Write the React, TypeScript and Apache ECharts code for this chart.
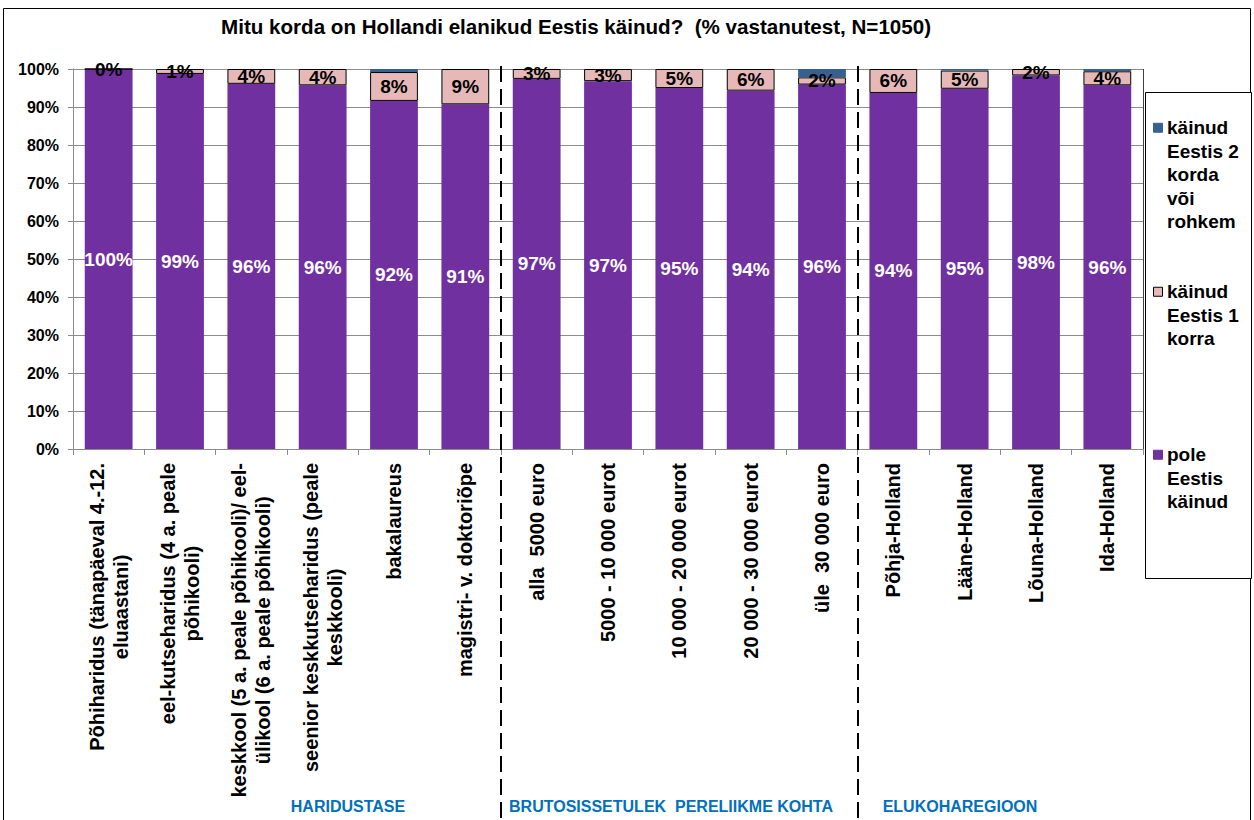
import React, { useEffect, useRef } from "react";
import * as echarts from "echarts";

const categories = [
  "Põhiharidus (tänapäeval 4.-12.\neluaastani)",
  "eel-kutseharidus (4 a. peale\npõhikooli)",
  "keskkool (5 a. peale põhikooli)/ eel-\nülikool (6 a. peale põhikooli)",
  "seenior keskkutseharidus (peale\nkeskkooli)",
  "bakalaureus",
  "magistri- v. doktoriõpe",
  "alla  5000 euro",
  "5000 - 10 000 eurot",
  "10 000 - 20 000 eurot",
  "20 000 - 30 000 eurot",
  "üle  30 000 euro",
  "Põhja-Holland",
  "Lääne-Holland",
  "Lõuna-Holland",
  "Ida-Holland",
];

const seriesNames = [
  "pole Eestis käinud",
  "käinud Eestis 1 korra",
  "käinud Eestis 2 korda või rohkem",
];

const poleKainud = [100, 98.7, 96.1, 95.7, 91.6, 90.7, 97.4, 96.8, 95.0, 94.3, 95.9, 93.7, 94.8, 98.3, 95.7];
const uksKord = [0, 1.3, 3.9, 4.3, 7.6, 9.3, 2.6, 3.2, 5.0, 5.7, 1.9, 6.3, 4.8, 1.7, 3.7];
const kaksVoiRohkem = [0, 0, 0, 0, 0.8, 0, 0, 0, 0, 0, 2.2, 0, 0.4, 0, 0.6];

const yTicks = [0, 10, 20, 30, 40, 50, 60, 70, 80, 90, 100];

const groupLabels = ["HARIDUSTASE", "BRUTOSISSETULEK  PERELIIKME KOHTA", "ELUKOHAREGIOON"];
const groupBreaks = [6, 11];

const legendLabels = ["käinud\nEestis 2\nkorda\nvõi\nrohkem", "käinud\nEestis 1\nkorra", "pole\nEestis\nkäinud"];

const TITLE = "Mitu korda on Hollandi elanikud Eestis käinud?  (% vastanutest, N=1050)";

const FONT = "'Liberation Sans', Arial, Helvetica, sans-serif";
const PURPLE = "#7030A0";
const PINK = "#E6B9B8";
const BLUE = "#376092";
const GRID_GRAY = "#8C8C8C";

export default function App() {
  const ref = useRef<HTMLDivElement>(null);

  useEffect(() => {
    if (!ref.current) return;
    const chart = echarts.init(ref.current, null, { renderer: "svg" });
    const pct = (p: any) => Math.round(p.value) + "%";
    chart.setOption({
      animation: false,
      textStyle: { fontFamily: FONT },
      title: {
        text: TITLE,
        left: 216,
        top: 11,
        textStyle: { fontFamily: FONT, fontSize: 20.6, fontWeight: "bold", color: "#000" },
      },
      legend: { show: false, data: seriesNames },
      grid: { left: 73, right: 111, top: 69, bottom: 371, containLabel: false },
      xAxis: {
        type: "category",
        data: categories,
        axisLine: { lineStyle: { color: GRID_GRAY, width: 1 } },
        axisTick: { show: true, length: 6, lineStyle: { color: GRID_GRAY } },
        axisLabel: {
          interval: 0,
          rotate: 90,
          margin: 14,
          formatter: (v: string) => v.split("\n").map((l) => `{c|${l}}`).join("\n"),
          rich: {
            c: {
              align: "center",
              fontFamily: FONT,
              fontSize: 20,
              fontWeight: "bold",
              color: "#000",
              lineHeight: 24,
            },
          },
        },
      },
      yAxis: {
        type: "value",
        min: 0,
        max: 100,
        interval: 10,
        axisLine: { show: true, lineStyle: { color: GRID_GRAY, width: 1 } },
        axisTick: { show: true, length: 5, lineStyle: { color: GRID_GRAY } },
        splitLine: { show: true, lineStyle: { color: GRID_GRAY, width: 1 } },
        axisLabel: {
          margin: 14,
          fontFamily: FONT,
          fontSize: 16,
          fontWeight: "bold",
          color: "#000",
          formatter: (v: number) => (yTicks.includes(v) ? v + "%" : ""),
        },
      },
      series: [
        {
          name: seriesNames[0],
          type: "bar",
          stack: "total",
          data: poleKainud,
          barCategoryGap: "33%",
          itemStyle: { color: PURPLE },
          label: {
            show: true,
            position: "inside",
            formatter: pct,
            color: "#fff",
            fontFamily: FONT,
            fontSize: 19,
            fontWeight: "bold",
          },
        },
        {
          name: seriesNames[1],
          type: "bar",
          stack: "total",
          data: uksKord,
          itemStyle: { color: PINK, borderColor: "#000", borderWidth: 1 },
          label: {
            show: true,
            position: "inside",
            formatter: pct,
            color: "#000",
            fontFamily: FONT,
            fontSize: 19,
            fontWeight: "bold",
          },
        },
        {
          name: seriesNames[2],
          type: "bar",
          stack: "total",
          data: kaksVoiRohkem,
          itemStyle: { color: BLUE },
          label: { show: false },
        },
      ],
    });

    // decorations positioned from the chart's own scale
    const xOf = (i: number) => chart.convertToPixel({ xAxisIndex: 0 }, i) as number;
    const band = xOf(1) - xOf(0);
    const sepX = groupBreaks.map((b) => Math.round(xOf(b) - band / 2));
    const plotRight = Math.round(xOf(categories.length - 1) + band / 2);
    const yTop = chart.convertToPixel({ yAxisIndex: 0 }, 100) as number;
    const yBot = chart.convertToPixel({ yAxisIndex: 0 }, 0) as number;

    const legendColors = [BLUE, PINK, PURPLE];
    const legendTops = [116, 280, 443];
    const LH = 23.5;

    const graphic: any[] = [
      {
        type: "rect",
        shape: { x: 3.5, y: 8.5, width: 1247, height: 830 },
        style: { fill: "none", stroke: "#000", lineWidth: 1 },
        silent: true,
        z: 100,
      },
      {
        type: "line",
        shape: { x1: plotRight + 0.5, y1: yTop, x2: plotRight + 0.5, y2: yBot },
        style: { stroke: "#404040", lineWidth: 1 },
        z: 100,
      },
      ...sepX.map((x) => ({
        type: "line",
        shape: { x1: x, y1: 66, x2: x, y2: 822 },
        style: { stroke: "#000", lineWidth: 2, lineDash: [16, 7] },
        z: 100,
      })),
      {
        type: "text",
        style: {
          text: groupLabels[0],
          x: 348,
          y: 806,
          textAlign: "center",
          textVerticalAlign: "middle",
          fill: "#0070C0",
          font: `bold 16px ${FONT}`,
        },
        z: 100,
      },
      {
        type: "text",
        style: {
          text: groupLabels[1],
          x: 671,
          y: 806,
          textAlign: "center",
          textVerticalAlign: "middle",
          fill: "#0070C0",
          font: `bold 16px ${FONT}`,
        },
        z: 100,
      },
      {
        type: "text",
        style: {
          text: groupLabels[2],
          x: 960,
          y: 806,
          textAlign: "center",
          textVerticalAlign: "middle",
          fill: "#0070C0",
          font: `bold 16px ${FONT}`,
        },
        z: 100,
      },
      {
        type: "rect",
        shape: { x: 1145.5, y: 92.5, width: 106, height: 486 },
        style: { fill: "#fff", stroke: "#000", lineWidth: 1 },
        z: 101,
      },
    ];
    legendLabels.forEach((lbl, i) => {
      graphic.push({
        type: "rect",
        shape: { x: 1153.5, y: legendTops[i] + LH / 2 - 4.5, width: 9, height: 9 },
        style: {
          fill: legendColors[i],
          stroke: i === 1 ? "#000" : legendColors[i],
          lineWidth: 1,
        },
        z: 102,
      });
      graphic.push({
        type: "text",
        style: {
          text: lbl,
          x: 1167,
          y: legendTops[i],
          textVerticalAlign: "top",
          fill: "#000",
          font: `bold 19px ${FONT}`,
          lineHeight: LH,
        },
        z: 102,
      });
    });
    chart.setOption({ graphic });

    return () => chart.dispose();
  }, []);

  return (
    <div
      ref={ref}
      style={{ position: "fixed", left: 0, top: 0, width: 1254, height: 820, background: "#fff" }}
    />
  );
}
